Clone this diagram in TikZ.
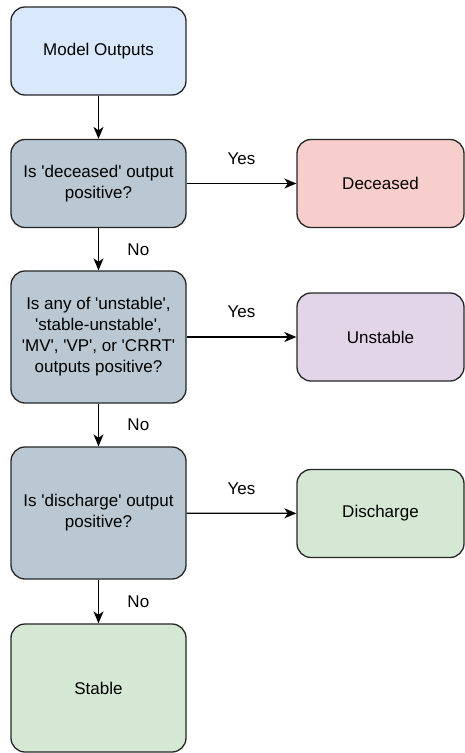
\documentclass[tikz,border=0pt]{standalone}
\usepackage{fontspec}
\setmainfont{Liberation Sans}
\usepackage{xcolor}
\usetikzlibrary{arrows.meta}

\definecolor{startblue}{HTML}{DAE8FC}
\definecolor{askgray}{HTML}{BAC8D3}
\definecolor{deadred}{HTML}{F8CECC}
\definecolor{unstpurple}{HTML}{E1D5E7}
\definecolor{okgreen}{HTML}{D5E8D4}
\newcommand{\sq}{\textquotesingle}

\tikzset{
	box/.style={draw=black!85, line width=1.3pt, rounded corners=14pt, align=center,
		inner sep=0pt, font=\fontsize{17}{21}\selectfont},
	leftbox/.style={box, minimum width=175pt},
	rightbox/.style={box, minimum width=167pt, minimum height=88pt},
	lbl/.style={font=\fontsize{17}{20}\selectfont}
}

\begin{document}
\begin{tikzpicture}[x=1pt,y=-1pt]
	\useasboundingbox (0,0) rectangle (465,753);
	% nodes
	\node[leftbox, minimum height=88pt, fill=startblue] (out) at (98.5,51) {Model Outputs};
	\node[leftbox, minimum height=88pt, fill=askgray] (qdead) at (98.5,183.5) {Is \sq deceased\sq{} output\\positive?};
	\node[leftbox, minimum height=132pt, fill=askgray] (qunst) at (98.5,337) {Is any of \sq unstable\sq,\\\sq stable-unstable\sq,\\\sq MV\sq, \sq VP\sq, or \sq CRRT\sq\\outputs positive?};
	\node[leftbox, minimum height=132pt, fill=askgray] (qdis) at (98.5,513) {Is \sq discharge\sq{} output\\positive?};
	\node[leftbox, minimum height=128pt, fill=okgreen] (stable) at (98.5,688) {Stable};
	\node[rightbox, fill=deadred] (dead) at (380.5,183.5) {Deceased};
	\node[rightbox, fill=unstpurple] (unst) at (380.5,337) {Unstable};
	\node[rightbox, fill=okgreen] (dis) at (380.5,513.5) {Discharge};
	%
	\path[->,line width=1.3pt,>={Stealth[length=12pt,width=10pt,inset=3.5pt]}]
	% vertical arrows
	(out) edge (qdead)
	(qdead) edge node[lbl,right=25pt]{No} (qunst)
	(qunst) edge node[lbl,right=25pt]{No} (qdis)
	(qdis) edge node[lbl,right=25pt]{No} (stable)
	% horizontal arrows
	(qdead) edge node[lbl,above=15pt]{Yes} (dead)
	(qunst) edge node[lbl,above=15pt]{Yes} (unst)
	(qdis) edge node[lbl,above=15pt]{Yes} (dis);
\end{tikzpicture}
\end{document}
